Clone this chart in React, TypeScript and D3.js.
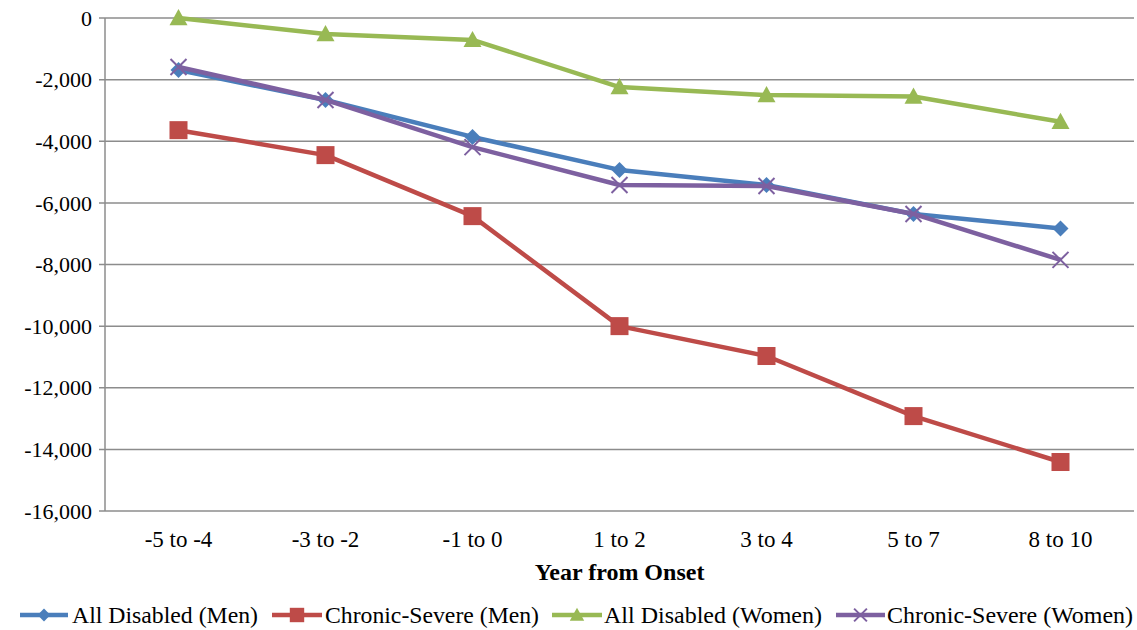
import React from "react";
import * as d3 from "d3";

const categories = ["-5 to -4", "-3 to -2", "-1 to 0", "1 to 2", "3 to 4", "5 to 7", "8 to 10"];
const allDisabledMen = [-1690, -2660, -3860, -4930, -5420, -6360, -6830];
const chronicSevereMen = [-3640, -4450, -6430, -10000, -10970, -12920, -14410];
const allDisabledWomen = [0, -520, -710, -2240, -2500, -2550, -3370];
const chronicSevereWomen = [-1590, -2660, -4190, -5420, -5450, -6360, -7850];
const yTicks = [0, -2000, -4000, -6000, -8000, -10000, -12000, -14000, -16000];

const series = [
  { name: "All Disabled (Men)", values: allDisabledMen, color: "#4A7EBB", marker: "diamond" },
  { name: "Chronic-Severe (Men)", values: chronicSevereMen, color: "#BE4B48", marker: "square" },
  { name: "All Disabled (Women)", values: allDisabledWomen, color: "#98B954", marker: "triangle" },
  { name: "Chronic-Severe (Women)", values: chronicSevereWomen, color: "#7D60A0", marker: "x" },
];

const W = 1137, H = 630;
const left = 105, right = 1134, top = 18, bottom = 511;
const font = '"Liberation Serif", "Times New Roman", "DejaVu Serif", serif';

function Marker({ type, x, y, color, k = 1 }: { type: string; x: number; y: number; color: string; k?: number }) {
  if (type === "diamond") {
    const s = 8 * k;
    return <path d={`M${x},${y - s}L${x + s},${y}L${x},${y + s}L${x - s},${y}Z`} fill={color} />;
  }
  if (type === "square") {
    const s = 9 * k;
    return <rect x={x - s} y={y - s} width={2 * s} height={2 * s} fill={color} />;
  }
  if (type === "triangle") {
    const s = 9 * k;
    return <path d={`M${x},${y - s}L${x + s},${y + s * 0.8}L${x - s},${y + s * 0.8}Z`} fill={color} />;
  }
  const s = 8 * k;
  return (
    <path d={`M${x - s},${y - s}L${x + s},${y + s}M${x - s},${y + s}L${x + s},${y - s}`} stroke={color} strokeWidth={2} />
  );
}

export default function App() {
  const x = d3.scaleBand<string>().domain(categories).range([left, right]);
  const y = d3.scaleLinear().domain([-16000, 0]).range([bottom, top]);
  const cx = (c: string) => (x(c) as number) + x.bandwidth() / 2;
  const line = d3.line<number>().x((_, i) => cx(categories[i])).y((v) => y(v));
  const fmt = (v: number) => d3.format(",")(v).replace("\u2212", "-");
  const ts = (size: number): React.CSSProperties => ({ fontFamily: font, fontSize: size });

  const legendItems = [
    { x1: 20, x2: 68, textX: 72, len: 186 },
    { x1: 272, x2: 322, textX: 325, len: 214 },
    { x1: 552, x2: 602, textX: 604, len: 218 },
    { x1: 836, x2: 885, textX: 887, len: 246 },
  ];

  return (
    <svg width={W} height={H} style={{ position: "absolute", left: 0, top: 0, background: "#fff" }}>
      {yTicks.map((t) => (
        <g key={t}>
          <line x1={left - 6} x2={right} y1={y(t)} y2={y(t)} stroke="#8C8C8C" strokeWidth={1.5} />
          <text x={left - 13} y={y(t)} dy="0.35em" textAnchor="end" style={ts(22)} fill="#000">
            {fmt(t)}
          </text>
        </g>
      ))}
      <line x1={left} x2={left} y1={top} y2={bottom} stroke="#8C8C8C" strokeWidth={1.5} />
      {categories.map((c) => (
        <text key={c} x={cx(c)} y={547} textAnchor="middle" style={ts(23)} fill="#000">
          {c}
        </text>
      ))}
      <text x={(left + right) / 2} y={580} textAnchor="middle" style={{ ...ts(24), fontWeight: "bold" }} fill="#000">
        Year from Onset
      </text>
      {series.map((s) => (
        <g key={s.name}>
          <path d={line(s.values) || ""} fill="none" stroke={s.color} strokeWidth={4.5} strokeLinejoin="round" />
          {s.values.map((v, i) => (
            <Marker key={i} type={s.marker} x={cx(categories[i])} y={y(v)} color={s.color} />
          ))}
        </g>
      ))}
      {series.map((s, i) => {
        const li = legendItems[i];
        const ly = 615;
        return (
          <g key={s.name}>
            <line x1={li.x1} x2={li.x2} y1={ly} y2={ly} stroke={s.color} strokeWidth={4.5} />
            <Marker type={s.marker} x={(li.x1 + li.x2) / 2} y={ly} color={s.color} k={0.8} />
            <text
              x={li.textX}
              y={ly}
              dy="0.35em"
              style={ts(23)}
              fill="#000"
              textLength={li.len}
              lengthAdjust="spacingAndGlyphs"
            >
              {s.name}
            </text>
          </g>
        );
      })}
    </svg>
  );
}
